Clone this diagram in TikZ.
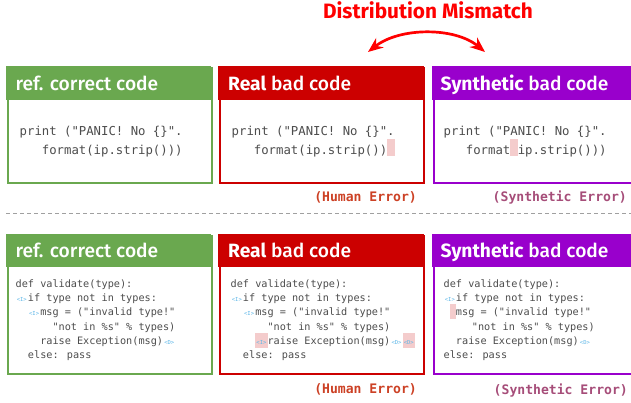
\documentclass[tikz,border=0pt]{standalone}
\usepackage{fontspec}
\usetikzlibrary{arrows.meta}
\setmonofont{DejaVu Sans Mono}
\newfontfamily\hdrfont{Fira Sans}[UprightFont={* Medium},BoldFont={* Bold}]
\newfontfamily\ttlfont{Fira Sans}
\newfontfamily\lblfont{DejaVu Sans Mono}
\definecolor{grn}{HTML}{6AA84F}
\definecolor{rd}{HTML}{CC0000}
\definecolor{pur}{HTML}{9900CC}
\definecolor{ttl}{HTML}{FF0000}
\definecolor{herr}{HTML}{CC4125}
\definecolor{serr}{HTML}{A64D79}
\definecolor{hlp}{HTML}{F4CCCC}
\definecolor{mkb}{HTML}{5DB7E8}
\definecolor{cgray}{HTML}{4D4D4D}
\definecolor{dgray}{HTML}{A0A0A0}
\newlength\cw
\newcommand\ind[1]{\hspace*{#1\cw}}
\newcommand\mk[1]{\makebox[2\cw][c]{\fontsize{5.5}{5.5}\selectfont\color{mkb}<#1>}}
\newcommand\hlt[1]{{\setlength\fboxsep{0pt}\colorbox{hlp}{\rule[-2pt]{0pt}{17pt}#1}}}
\newcommand\hlb[1]{{\setlength\fboxsep{0pt}\colorbox{hlp}{\rule[-3pt]{0pt}{14.5pt}#1}}}
\begin{document}
\begin{tikzpicture}[x=1pt,y=-1pt,
  body/.style={draw,line width=2pt,fill=white,inner sep=0,anchor=north west},
  hbar/.style={inner sep=0,anchor=north west,minimum height=34pt},
  htext/.style={font=\hdrfont\fontsize{19.2}{21}\selectfont,text=white,anchor=base west,inner sep=0},
  ctop/.style={font=\ttfamily\fontsize{12.3}{15}\selectfont\settowidth\cw{0},text=cgray,anchor=base west,inner sep=0},
  cbot/.style={font=\ttfamily\fontsize{10.2}{12}\selectfont\settowidth\cw{0},text=cgray,anchor=base west,inner sep=0},
  lbl/.style={font=\lblfont\bfseries\fontsize{13.1}{14}\selectfont,anchor=base east,inner sep=0},
  mis/.style={draw=ttl,line width=2.7pt,{Stealth[length=15pt,width=12pt]}-{Stealth[length=15pt,width=12pt]}},
  sep/.style={draw=dgray,line width=1pt,dash pattern=on 4pt off 3pt}]
\useasboundingbox (0,0) rectangle (631,402);
% title and arrow
\node[font=\ttlfont\bfseries\fontsize{20.8}{23}\selectfont,text=ttl,anchor=base,inner sep=0] (title) at (428,18.5) {Distribution Mismatch};
\coordinate (aL) at (368,52);
\coordinate (aR) at (485,52);
\draw[mis] (aL) .. controls (400,27) and (455,27) .. (aR);
% ---------- top row ----------
\node[body,draw=grn,minimum width=204pt,minimum height=115pt] (tb1) at (7,67) {};
\node[body,draw=rd,minimum width=204pt,minimum height=115pt] (tb2) at (219,67) {};
\node[body,draw=pur,minimum width=205pt,minimum height=115pt] (tb3) at (433,67) {};
\node[hbar,fill=grn,minimum width=205pt] (th1) at (6,66) {};
\node[hbar,fill=rd,minimum width=206pt] (th2) at (218,66) {};
\node[hbar,fill=pur,minimum width=207pt] (th3) at (432,66) {};
\node[htext] (tt1) at (15.5,90.5) {ref. correct code};
\node[htext] (tt2) at (228,90.5) {\textbf{Real} bad code};
\node[htext] (tt3) at (440.5,90.5) {\textbf{Synthetic} bad code};
\node[ctop] (tc1a) at (19.5,135) {print ("PANIC! No \{\}".};
\node[ctop] (tc1b) at (19.5,154.3) {\ind{3}format(ip.strip()))};
\node[ctop] (tc2a) at (231.5,135) {print ("PANIC! No \{\}".};
\node[ctop] (tc2b) at (231.5,154.3) {\ind{3}format(ip.strip())\hlt{\ind{1}}};
\node[ctop] (tc3a) at (443.5,135) {print ("PANIC! No \{\}".};
\node[ctop] (tc3b) at (443.5,154.3) {\ind{3}format\hlt{\ind{1}}ip.strip()))};
\node[lbl,text=herr] (tl2) at (417,201.5) {(Human Error)};
\node[lbl,text=serr] (tl3) at (627,201.5) {(Synthetic Error)};
% separator
\coordinate (sL) at (6,213);
\coordinate (sR) at (631,213);
\draw[sep] (sL) -- (sR);
% ---------- bottom row ----------
\node[body,draw=grn,minimum width=204pt,minimum height=138pt] (bb1) at (7,235) {};
\node[body,draw=rd,minimum width=204pt,minimum height=138pt] (bb2) at (219,235) {};
\node[body,draw=pur,minimum width=205pt,minimum height=138pt] (bb3) at (433,235) {};
\node[hbar,fill=grn,minimum width=205pt,minimum height=33pt] (bh1) at (6,234) {};
\node[hbar,fill=rd,minimum width=206pt,minimum height=33pt] (bh2) at (218,234) {};
\node[hbar,fill=pur,minimum width=207pt,minimum height=33pt] (bh3) at (432,234) {};
\node[htext] (bt1) at (15.5,257.5) {ref. correct code};
\node[htext] (bt2) at (228,257.5) {\textbf{Real} bad code};
\node[htext] (bt3) at (440.5,257.5) {\textbf{Synthetic} bad code};
% box 1 code
\node[cbot] (c1a) at (15.5,287.3) {def validate(type):};
\node[cbot] (c1b) at (15.5,301.6) {\mk{I}if type not in types:};
\node[cbot] (c1c) at (15.5,315.9) {\ind{2}\mk{I}msg = ("invalid type!"};
\node[cbot] (c1d) at (15.5,330.2) {\ind{6}"not in \%s" \% types)};
\node[cbot] (c1e) at (15.5,344.5) {\ind{4}raise Exception(msg)\mk{D}};
\node[cbot] (c1f) at (15.5,358.8) {\ind{2}else: pass};
% box 2 code
\node[cbot] (c2a) at (230.5,287.3) {def validate(type):};
\node[cbot] (c2b) at (230.5,301.6) {\mk{I}if type not in types:};
\node[cbot] (c2c) at (230.5,315.9) {\ind{2}\mk{I}msg = ("invalid type!"};
\node[cbot] (c2d) at (230.5,330.2) {\ind{6}"not in \%s" \% types)};
\node[cbot] (c2e) at (230.5,344.5) {\ind{4}\hlb{\mk{I}}raise Exception(msg)\mk{D}\hlb{\mk{D}}};
\node[cbot] (c2f) at (230.5,358.8) {\ind{2}else: pass};
% box 3 code
\node[cbot] (c3a) at (443.5,287.3) {def validate(type):};
\node[cbot] (c3b) at (443.5,301.6) {\mk{I}if type not in types:};
\node[cbot] (c3c) at (443.5,315.9) {\ind{1}\hlb{\ind{1}}msg = ("invalid type!"};
\node[cbot] (c3d) at (443.5,330.2) {\ind{4.6}"not in \%s" \% types)};
\node[cbot] (c3e) at (443.5,344.5) {\ind{2}raise Exception(msg)\mk{D}};
\node[cbot] (c3f) at (443.5,358.8) {else: pass};
\node[lbl,text=herr] (bl2) at (417,393.5) {(Human Error)};
\node[lbl,text=serr] (bl3) at (628,394) {(Synthetic Error)};
\end{tikzpicture}
\end{document}
